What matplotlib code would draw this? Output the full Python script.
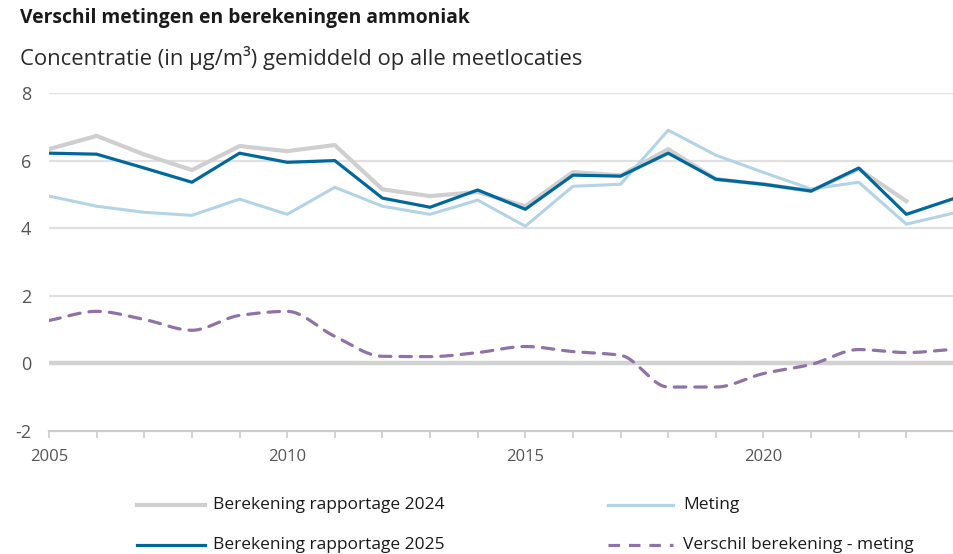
import numpy as np
import matplotlib
matplotlib.use("Agg")
import matplotlib.pyplot as plt
from matplotlib.lines import Line2D

years = list(range(2005, 2025))
berekening_2024 = [6.34, 6.73, 6.18, 5.72, 6.43, 6.28, 6.46, 5.15, 4.95, 5.07,
                   4.65, 5.66, 5.56, 6.34, 5.45, 5.30, 5.10, 5.75, 4.80]
berekening_2025 = [6.22, 6.19, 5.78, 5.36, 6.22, 5.95, 6.00, 4.89, 4.62, 5.13,
                   4.56, 5.57, 5.54, 6.22, 5.45, 5.30, 5.10, 5.78, 4.41, 4.88]
meting = [4.95, 4.65, 4.47, 4.38, 4.86, 4.41, 5.21, 4.65, 4.41, 4.83,
          4.06, 5.24, 5.30, 6.90, 6.16, 5.65, 5.16, 5.36, 4.12, 4.45]
verschil = [1.27, 1.54, 1.30, 0.98, 1.42, 1.54, 0.80, 0.21, 0.20, 0.32,
            0.50, 0.35, 0.24, -0.70, -0.70, -0.30, -0.03, 0.41, 0.32, 0.42]
y_ticks = [-2, 0, 2, 4, 6, 8]
x_ticks = [2005, 2010, 2015, 2020]

title = "Verschil metingen en berekeningen ammoniak"
subtitle = "Concentratie (in µg/m³) gemiddeld op alle meetlocaties"
legend_labels = ["Berekening rapportage 2024", "Berekening rapportage 2025",
                 "Meting", "Verschil berekening - meting"]

c_grey = "#cfcfcf"
c_dark = "#01689b"
c_light = "#b3d4e5"
c_purple = "#8f73a6"
c_text = "#555555"


def pchip(x, y, n=400):
    """Monotone cubic (Fritsch-Carlson) interpolation for a smooth curve."""
    x = np.asarray(x, float)
    y = np.asarray(y, float)
    h = np.diff(x)
    d = np.diff(y) / h
    m = np.zeros_like(y)
    for i in range(1, len(y) - 1):
        if d[i - 1] * d[i] > 0:
            w1 = 2 * h[i] + h[i - 1]
            w2 = h[i] + 2 * h[i - 1]
            m[i] = (w1 + w2) / (w1 / d[i - 1] + w2 / d[i])
    m[0] = d[0]
    m[-1] = d[-1]
    xs = np.linspace(x[0], x[-1], n)
    idx = np.clip(np.searchsorted(x, xs) - 1, 0, len(x) - 2)
    t = (xs - x[idx]) / h[idx]
    h00 = 2 * t**3 - 3 * t**2 + 1
    h10 = t**3 - 2 * t**2 + t
    h01 = -2 * t**3 + 3 * t**2
    h11 = t**3 - t**2
    ys = (h00 * y[idx] + h10 * h[idx] * m[idx]
          + h01 * y[idx + 1] + h11 * h[idx] * m[idx + 1])
    return xs, ys


plt.rcParams["font.family"] = ["Open Sans", "DejaVu Sans"]

fig = plt.figure(figsize=(9.54, 5.54), dpi=100)
ax = fig.add_axes([49 / 954, 1 - 431 / 554, 905 / 954, (431 - 93) / 554])

ax.set_xlim(2005, 2024)
ax.set_ylim(-2, 8)

for yt in y_ticks:
    if yt == 0:
        ax.axhline(yt, color="#d2d2d2", lw=3.2, zorder=1)
    elif yt == -2:
        ax.axhline(yt, color="#cccccc", lw=1.6, zorder=1, clip_on=False)
    else:
        ax.axhline(yt, color="#e0e0e0", lw=1.6, zorder=1)

ax.plot(years[:len(berekening_2024)], berekening_2024, color=c_grey, lw=3.0,
        zorder=2, solid_joinstyle="round")
ax.plot(years, meting, color=c_light, lw=2.2, zorder=3, solid_joinstyle="round")
ax.plot(years, berekening_2025, color=c_dark, lw=2.3, zorder=4,
        solid_joinstyle="round")
xs, ys = pchip(years, verschil)
ax.plot(xs, ys, color=c_purple, lw=2.3, ls=(0, (3.6, 2.8)), zorder=5,
        dash_capstyle="round")

for s in ax.spines.values():
    s.set_visible(False)

ax.set_yticks(y_ticks)
ax.set_yticklabels([str(v) for v in y_ticks])
ax.tick_params(axis="y", length=0, pad=13, labelsize=13, labelcolor=c_text)
ax.set_xticks(years)
ax.set_xticklabels([str(y) if y in x_ticks else "" for y in years])
ax.tick_params(axis="x", length=5, width=1.2, color="#cccccc", pad=8,
               labelsize=12, labelcolor=c_text)

fig.text(20 / 954, 1 - 18 / 554, title, fontsize=13.9, fontweight="bold",
         color="#1a1a1a", va="center", ha="left")
fig.text(20 / 954, 1 - 58 / 554, subtitle, fontsize=15.8, color="#2a2a2a",
         va="center", ha="left")

# Legend drawn in figure coordinates, two columns
entries = [
    (legend_labels[0], dict(color=c_grey, lw=3.0, ls="-"), 137, 205, 213, 505),
    (legend_labels[1], dict(color=c_dark, lw=2.3, ls="-"), 137, 205, 213, 545),
    (legend_labels[2], dict(color=c_light, lw=2.3, ls="-"), 608, 673, 683, 505),
    (legend_labels[3], dict(color=c_purple, lw=2.3, ls=(0, (3.6, 2.8))),
     608, 673, 683, 545),
]
for label, style, x0, x1, tx, py in entries:
    yy = 1 - py / 554
    fig.add_artist(Line2D([x0 / 954, x1 / 954], [yy, yy],
                          transform=fig.transFigure, **style))
    fig.text(tx / 954, yy, label, fontsize=12.5, color="#1a1a1a",
             va="center", ha="left")

fig.savefig("out.png", dpi=100)
